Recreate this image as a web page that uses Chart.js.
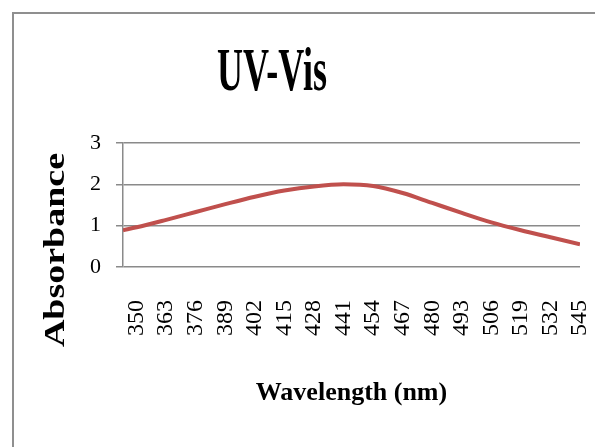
<!DOCTYPE html>
<html>
<head>
<meta charset="utf-8">
<script src="https://cdn.jsdelivr.net/npm/chart.js@4"></script>
<style>
  html, body { margin: 0; padding: 0; background: #fff; overflow: hidden; }
  #frame {
    position: absolute; left: 12px; top: 12px; width: 640px; height: 480px;
    border: 2px solid #8f8f8f; box-sizing: border-box;
  }
  #wrap { position: absolute; left: 0; top: 0; width: 595px; height: 447px; }
</style>
</head>
<body>
<div id="frame"></div>
<div id="wrap"><canvas id="uvChart"></canvas></div>
<script>
// wavelength (nm) / absorbance
const wavelengths = [344, 350, 363, 376, 389, 402, 415, 428, 441, 454, 467, 480, 493, 506, 519, 532, 545];
const absorbance  = [0.89, 0.96, 1.14, 1.33, 1.52, 1.70, 1.85, 1.95, 2.00, 1.96, 1.79, 1.55, 1.31, 1.08, 0.89, 0.72, 0.55];

// подписи оси X
const xTickLabels = [350, 363, 376, 389, 402, 415, 428, 441, 454, 467, 480, 493, 506, 519, 532, 545];
const yTickLabels = [0, 1, 2, 3];

const chartTitle = "UV-Vis";
const yTitle = "Absorbance";
const xTitle = "Wavelength (nm)";

const serif = '"Liberation Serif", "Times New Roman", serif';

// заголовок и подпись оси Y рисуем сами (вытянутый шрифт как в оригинале)
const stretchedText = {
  id: "stretchedText",
  afterDraw(chart) {
    const ctx = chart.ctx;
    ctx.save();
    ctx.fillStyle = "#000";
    ctx.textAlign = "center";
    ctx.textBaseline = "alphabetic";

    ctx.font = `bold 36px ${serif}`;
    ctx.save();
    ctx.translate(272, 90);
    ctx.scale(1, 1.68);
    ctx.fillText(chartTitle, 0, 0);
    ctx.restore();

    ctx.font = `bold 29px ${serif}`;
    ctx.save();
    ctx.translate(64, 250);
    ctx.rotate(-Math.PI / 2);
    ctx.scale(1.31, 1);
    ctx.fillText(yTitle, 0, 0);
    ctx.restore();

    ctx.restore();
  }
};

Chart.defaults.font.family = serif;
Chart.defaults.color = "#000";

const ctx = document.getElementById("uvChart").getContext("2d");
new Chart(ctx, {
  type: "line",
  data: {
    datasets: [{
      label: "UV-Vis",
      data: wavelengths.map((w, i) => ({ x: w, y: absorbance[i] })),
      borderColor: "#C0504D",
      borderWidth: 4,
      pointRadius: 0,
      fill: false,
      cubicInterpolationMode: "monotone"
    }]
  },
  options: {
    responsive: true,
    maintainAspectRatio: false,
    animation: false,
    layout: { padding: { top: 143, right: 15, left: 0, bottom: 0 } },
    plugins: {
      legend: { display: false },
      title: { display: false },
      tooltip: { enabled: false }
    },
    scales: {
      x: {
        type: "linear",
        min: wavelengths[0],
        max: wavelengths[wavelengths.length - 1],
        afterBuildTicks: s => { s.ticks = xTickLabels.map(v => ({ value: v })); },
        afterFit: s => { s.height = 180; s.paddingLeft = 0; s.paddingRight = 0; },
        grid: { display: false, drawTicks: false },
        border: { display: false },
        ticks: {
          autoSkip: false,
          minRotation: 90,
          maxRotation: 90,
          padding: 33,
          font: { size: 24 }
        },
        title: {
          display: true,
          text: xTitle,
          font: { size: 26, weight: "bold" },
          padding: { top: 0, bottom: 38 }
        }
      },
      y: {
        min: 0,
        max: 3,
        afterBuildTicks: s => { s.ticks = yTickLabels.map(v => ({ value: v })); },
        afterFit: s => { s.width = 123; s.paddingTop = 0; s.paddingBottom = 0; },
        grid: { color: "#8a8a8a", lineWidth: 1.5, tickLength: 7 },
        border: { display: true, color: "#8a8a8a", width: 1.5 },
        ticks: { padding: 15, font: { size: 22 } }
      }
    }
  },
  plugins: [stretchedText]
});
</script>
</body>
</html>
